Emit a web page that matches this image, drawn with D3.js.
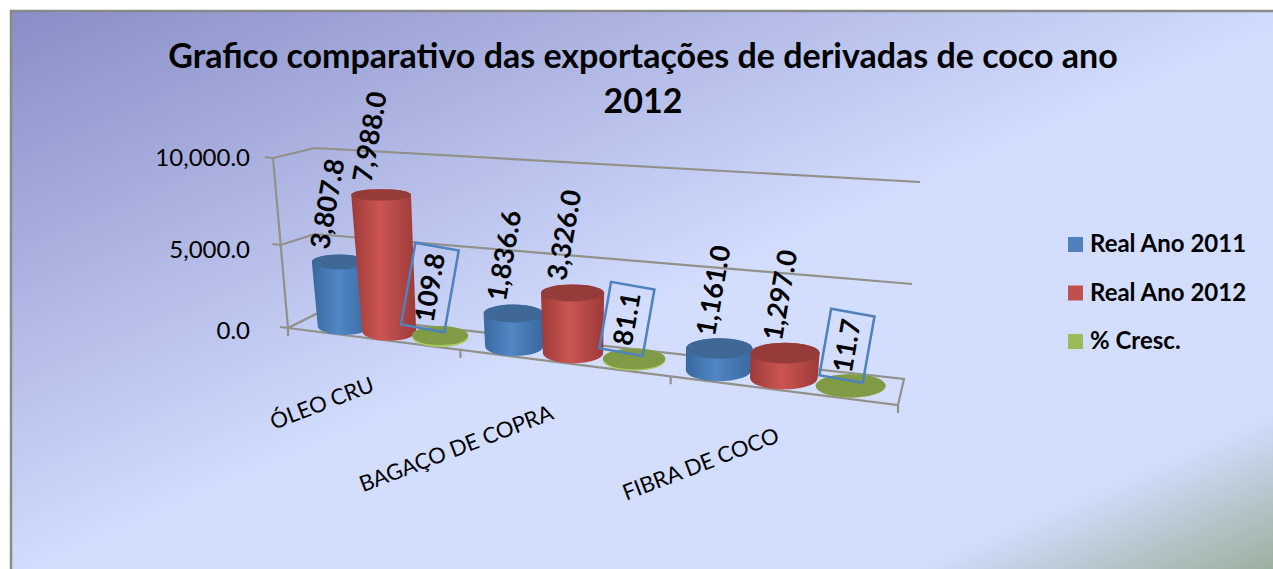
<!DOCTYPE html>
<html>
<head>
<meta charset="utf-8">
<script src="https://cdn.jsdelivr.net/npm/d3@7"></script>
<style>
  html, body { margin: 0; padding: 0; background: #fff; }
  svg { display: block; }
  text { font-family: Lato, "Open Sans", sans-serif; fill: #000; }
</style>
</head>
<body>
<div id="chart"></div>
<script>
var width = 1273;
var height = 569;

var titleLines = ["Grafico comparativo das exportações de derivadas de coco ano", "2012"];
var categories = ["ÓLEO CRU", "BAGAÇO DE COPRA", "FIBRA DE COCO"];
var seriesNames = ["Real Ano 2011", "Real Ano 2012", "% Cresc."];
var real2011 = [3807.8, 1836.6, 1161.0];
var real2012 = [7988.0, 3326.0, 1297.0];
var cresc = [109.8, 81.1, 11.7];
var tickValues = [0, 5000, 10000];

var seriesValues = [real2011, real2012, cresc];
var seriesFill = ["#4f81bd", "#c0504d", "#9bbb59"];
var seriesEdge = ["#3a689e", "#9c3a38", "#a6c85c"];
var seriesMid = ["#5187c6", "#cc5552", "#a6c85c"];
var seriesTop = ["#3f6896", "#953b39", "#7f9b45"];

var svg = d3.select("#chart")
    .append("svg")
    .attr("width", width)
    .attr("height", height);

var defs = svg.append("defs");

// background, diagonal
var bg = defs.append("linearGradient")
    .attr("id", "bg")
    .attr("gradientUnits", "userSpaceOnUse")
    .attr("x1", 12).attr("y1", 12)
    .attr("x2", 418).attr("y2", 947);
bg.append("stop").attr("offset", 0).attr("stop-color", "#898dc6");
bg.append("stop").attr("offset", 0.52).attr("stop-color", "#d3deff");
bg.append("stop").attr("offset", 0.85).attr("stop-color", "#d3deff");
bg.append("stop").attr("offset", 1).attr("stop-color", "#98ae9a");

seriesFill.forEach(function (c, s) {
    var g = defs.append("linearGradient").attr("id", "side" + s);
    g.append("stop").attr("offset", 0).attr("stop-color", seriesEdge[s]);
    g.append("stop").attr("offset", 0.45).attr("stop-color", seriesMid[s]);
    g.append("stop").attr("offset", 1).attr("stop-color", seriesEdge[s]);
});

svg.append("rect")
    .attr("x", 11).attr("y", 11)
    .attr("width", width + 20).attr("height", height + 20)
    .attr("fill", "url(#bg)")
    .attr("stroke", "#8a8a8a")
    .attr("stroke-width", 2.5);

// floor of the 3d box and the way the value axis leans
var floorFront = [[288, 328], [898, 405]];
var floorBack = [[316, 314], [904, 379]];
var tickX = d3.scalePow().exponent(1.15).domain([0, 3]).range([288, 898]);
var markX = d3.scalePow().exponent(1.19).domain([0, 3]).range([321, 896]);
var midY = d3.scaleLinear().domain([302, 901]).range([321, 392]);
var frontY = d3.scaleLinear().domain([288, 898]).range([328, 405]);

var axisLeftX = d3.scaleLinear().domain([0, 10000]).range([288, 273]);
var axisLeftY = d3.scaleLinear().domain(tickValues).range([328, 245, 158]);
var backLeftY = d3.scaleLinear().domain(tickValues).range([314, 234, 148]);
var backRightX = d3.scaleLinear().domain([0, 10000]).range([904, 920]);
var backRightY = d3.scaleLinear().domain(tickValues).range([379, 284, 182]);
var labelY = d3.scaleLinear().domain(tickValues).range([331, 250, 158]);
var heightPx = d3.scaleLinear().domain([0, 10000]).range([0, 166]);

// walls
var walls = svg.append("g")
    .attr("fill", "none")
    .attr("stroke", "#91918a")
    .attr("stroke-width", 2.2);
var wallLine = d3.line();

walls.append("path").attr("d", wallLine([
    floorFront[0], floorBack[0], floorBack[1], floorFront[1], floorFront[0]
]));
walls.append("path").attr("d", wallLine([[axisLeftX(0), axisLeftY(0)], [axisLeftX(10000), axisLeftY(10000)]]));
tickValues.forEach(function (v) {
    if (v > 0) {
        walls.append("path").attr("d", wallLine([
            [axisLeftX(v), axisLeftY(v)],
            [315, backLeftY(v)],
            [backRightX(v), backRightY(v)]
        ]));
    }
    walls.append("path").attr("d", wallLine([
        [axisLeftX(v) - 8, axisLeftY(v) - 1],
        [axisLeftX(v), axisLeftY(v)]
    ]));
});
d3.range(0, 4).forEach(function (u) {
    var x = tickX(u);
    walls.append("path").attr("d", wallLine([[x, frontY(x)], [x, frontY(x) + 8]]));
});

// value axis labels
var yAxis = svg.append("g")
    .attr("transform", "translate(250,0)")
    .call(d3.axisLeft(labelY)
        .tickValues(tickValues)
        .tickFormat(d3.format(",.1f"))
        .tickSize(0)
        .tickPadding(0));
yAxis.select(".domain").remove();
yAxis.selectAll("text")
    .style("font-family", "Lato")
    .style("font-size", "24px");

// cylinders
var marks = [];
categories.forEach(function (c, i) {
    seriesNames.forEach(function (n, s) {
        var x = markX(i + 0.5 + (s - 1) * 0.3);
        var y = midY(x);
        var h = heightPx(seriesValues[s][i]) * (1 + 0.2 * (x - 302) / 599);
        var rx = 26 + 0.0174 * (x - 335);
        var ry = 9 + 0.005 * (x - 335);
        marks.push({
            series: s,
            value: seriesValues[s][i],
            bx: x,
            by: y,
            brx: rx,
            bry: ry,
            tx: x + (x - 600) * h * 0.00028,
            ty: y - h,
            trx: rx * (1 + h * 0.0008),
            try_: ry * (1 - h * 0.0028)
        });
    });
});

var cyl = svg.append("g").selectAll("g")
    .data(marks)
    .enter().append("g");

cyl.append("path")
    .attr("fill", function (d) { return "url(#side" + d.series + ")"; })
    .attr("d", function (d) {
        return "M" + (d.tx - d.trx) + "," + d.ty +
            "L" + (d.bx - d.brx) + "," + d.by +
            "A" + d.brx + "," + d.bry + " 0 0 0 " + (d.bx + d.brx) + "," + d.by +
            "L" + (d.tx + d.trx) + "," + d.ty +
            "A" + d.trx + "," + d.try_ + " 0 0 0 " + (d.tx - d.trx) + "," + d.ty + "Z";
    });

cyl.append("ellipse")
    .attr("cx", function (d) { return d.tx; })
    .attr("cy", function (d) { return d.ty; })
    .attr("rx", function (d) { return d.trx; })
    .attr("ry", function (d) { return d.try_; })
    .attr("fill", function (d) { return seriesTop[d.series]; });

// data labels, % series gets a box sitting on the disc
var fmt = d3.format(",.1f");
var labels = svg.append("g").selectAll("g")
    .data(marks)
    .enter().append("g")
    .attr("transform", function (d) {
        var dx = -12 + (d.tx - 335) * 0.016;
        var dy = d.series == 2 ? -40 - 8 * (fmt(d.value).length - 4) : -58;
        return "translate(" + (d.tx + dx) + "," + (d.ty + dy) + ") rotate(-80)";
    });

labels.append("text")
    .attr("text-anchor", "middle")
    .attr("dy", "0.35em")
    .style("font-size", "27px")
    .style("font-weight", 700)
    .text(function (d) { return fmt(d.value); });

labels.filter(function (d) { return d.series == 2; })
    .insert("rect", "text")
    .each(function () {
        var b = this.parentNode.querySelector("text").getBBox();
        d3.select(this)
            .attr("x", b.x - 7)
            .attr("width", b.width + 14)
            .attr("y", -22)
            .attr("height", 44);
    })
    .attr("fill", "none")
    .attr("stroke", "#4f81bd")
    .attr("stroke-width", 2.5);

// category labels
var catNudge = [[8, 5], [-10, 8], [-4, 3]];
svg.append("g").selectAll("text")
    .data(categories)
    .enter().append("text")
    .attr("text-anchor", "end")
    .attr("transform", function (d, i) {
        var x = tickX(i + 0.5);
        return "translate(" + (x + 2 + catNudge[i][0]) + "," + (frontY(x) + 48 + catNudge[i][1]) + ") rotate(-21)";
    })
    .style("font-size", "22px")
    .text(function (d) { return d; });

// title
svg.append("g").selectAll("text")
    .data(titleLines)
    .enter().append("text")
    .attr("x", 643)
    .attr("y", function (d, i) { return 68 + i * 45; })
    .attr("text-anchor", "middle")
    .style("font-size", "34px")
    .style("font-weight", 700)
    .text(function (d) { return d; });

// legend
var legendY = d3.scalePoint().domain(seriesNames).range([252, 349]);
var legend = svg.append("g").selectAll("g")
    .data(seriesNames)
    .enter().append("g")
    .attr("transform", function (d) { return "translate(1068," + legendY(d) + ")"; });
legend.append("rect")
    .attr("y", -15)
    .attr("width", 15)
    .attr("height", 15)
    .attr("fill", function (d, i) { return seriesFill[i]; });
legend.append("text")
    .attr("x", 22)
    .attr("y", 0)
    .style("font-size", "24px")
    .style("font-weight", 700)
    .text(function (d) { return d; });
</script>
</body>
</html>
